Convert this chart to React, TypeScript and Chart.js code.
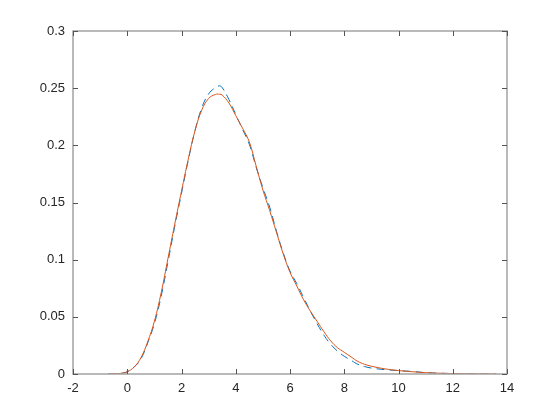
import React, { useEffect, useRef } from "react";
import { Chart, registerables } from "chart.js";

Chart.register(...registerables);

const xValues = [-0.7, -0.25, 0, 0.25, 0.5, 0.75, 1, 1.25, 1.5, 1.75, 2, 2.25, 2.5, 2.75, 3, 3.25, 3.4, 3.5, 3.75, 4, 4.25, 4.5, 4.75, 5, 5.25, 5.5, 5.75, 6, 6.25, 6.5, 6.75, 7, 7.25, 7.5, 7.75, 8, 8.25, 8.5, 8.75, 9, 9.5, 10, 10.5, 11, 11.5, 12, 13, 13.6];

const densityBlue = [0, 0.0005, 0.002, 0.006, 0.013, 0.027, 0.044, 0.068, 0.098, 0.129, 0.158, 0.187, 0.213, 0.233, 0.245, 0.2505, 0.252, 0.2505, 0.240, 0.227, 0.214, 0.201, 0.181, 0.163, 0.146, 0.125, 0.106, 0.090, 0.079, 0.067, 0.055, 0.044, 0.034, 0.026, 0.020, 0.0155, 0.012, 0.0085, 0.0065, 0.0052, 0.0038, 0.003, 0.0022, 0.0012, 0.0007, 0.0004, 0.0001, 0];

const densityRed = [0, 0.0005, 0.002, 0.006, 0.014, 0.028, 0.046, 0.071, 0.101, 0.131, 0.160, 0.188, 0.213, 0.231, 0.241, 0.2445, 0.2447, 0.244, 0.237, 0.226, 0.215, 0.203, 0.182, 0.161, 0.143, 0.124, 0.105, 0.089, 0.077, 0.065, 0.055, 0.046, 0.037, 0.029, 0.023, 0.019, 0.015, 0.011, 0.0085, 0.0068, 0.0045, 0.003, 0.002, 0.0012, 0.0007, 0.0004, 0.0001, 0];

const xTicks = [-2, 0, 2, 4, 6, 8, 10, 12, 14];
const yTicks = [0, 0.05, 0.1, 0.15, 0.2, 0.25, 0.3];

const boxPlugin = {
  id: "matlabBox",
  afterDraw(chart: any) {
    const { ctx, chartArea } = chart;
    const xs = chart.scales.x;
    const ys = chart.scales.y;
    const l = Math.round(chartArea.left);
    const r = Math.round(chartArea.right);
    const t = Math.round(chartArea.top);
    const b = Math.round(chartArea.bottom);
    ctx.save();
    ctx.strokeStyle = "#a3a3a3";
    ctx.lineWidth = 1.5;
    ctx.beginPath();
    ctx.rect(l, t, r - l, b - t);
    ctx.stroke();
    ctx.strokeStyle = "#555555";
    ctx.lineWidth = 1;
    const len = 5;
    ctx.beginPath();
    for (const v of xTicks) {
      const px = Math.round(xs.getPixelForValue(v)) + 0.5;
      ctx.moveTo(px, b);
      ctx.lineTo(px, b - len);
      ctx.moveTo(px, t);
      ctx.lineTo(px, t + len);
    }
    for (const v of yTicks) {
      const py = Math.round(ys.getPixelForValue(v)) + 0.5;
      ctx.moveTo(l, py);
      ctx.lineTo(l + len, py);
      ctx.moveTo(r, py);
      ctx.lineTo(r - len, py);
    }
    ctx.stroke();
    ctx.restore();
  },
};

export default function App() {
  const ref = useRef<HTMLCanvasElement | null>(null);
  useEffect(() => {
    if (!ref.current) return;
    const font = { family: "'Liberation Sans', Arial, sans-serif", size: 13 };
    const chart = new Chart(ref.current, {
      type: "line",
      data: {
        datasets: [
          {
            label: "fit",
            data: xValues.map((x, i) => ({ x, y: densityRed[i] })),
            borderColor: "#D95319",
            borderWidth: 1,
            pointRadius: 0,
            tension: 0.4,
            order: 0,
          },
          {
            label: "density",
            data: xValues.map((x, i) => ({ x, y: densityBlue[i] })),
            borderColor: "#0072BD",
            borderWidth: 1,
            borderDash: [8, 5],
            pointRadius: 0,
            tension: 0.4,
            order: 1,
          },
        ],
      },
      options: {
        responsive: false,
        animation: false,
        layout: { padding: { top: 31, right: 53, left: 0, bottom: 0 } },
        plugins: { legend: { display: false }, tooltip: { enabled: false } },
        scales: {
          x: {
            type: "linear",
            min: -2,
            max: 14,
            afterBuildTicks: (s: any) => {
              s.ticks = xTicks.map((v) => ({ value: v }));
            },
            ticks: { color: "#262626", font, padding: 7, maxRotation: 0 },
            grid: { display: false, drawTicks: false },
            border: { display: false },
            afterFit: (s: any) => {
              s.height = 46;
            },
          },
          y: {
            type: "linear",
            min: 0,
            max: 0.3,
            afterBuildTicks: (s: any) => {
              s.ticks = yTicks.map((v) => ({ value: v }));
            },
            ticks: {
              color: "#262626",
              font,
              padding: 8,
              callback: (v: any) => String(Math.round(Number(v) * 100) / 100),
            },
            grid: { display: false, drawTicks: false },
            border: { display: false },
            afterFit: (s: any) => {
              s.width = 73;
            },
          },
        },
      },
      plugins: [boxPlugin],
    } as any);
    return () => chart.destroy();
  }, []);
  return (
    <div style={{ position: "absolute", left: 0, top: 0, width: 560, height: 420, background: "#fff" }}>
      <canvas ref={ref} width={560} height={420} />
    </div>
  );
}
